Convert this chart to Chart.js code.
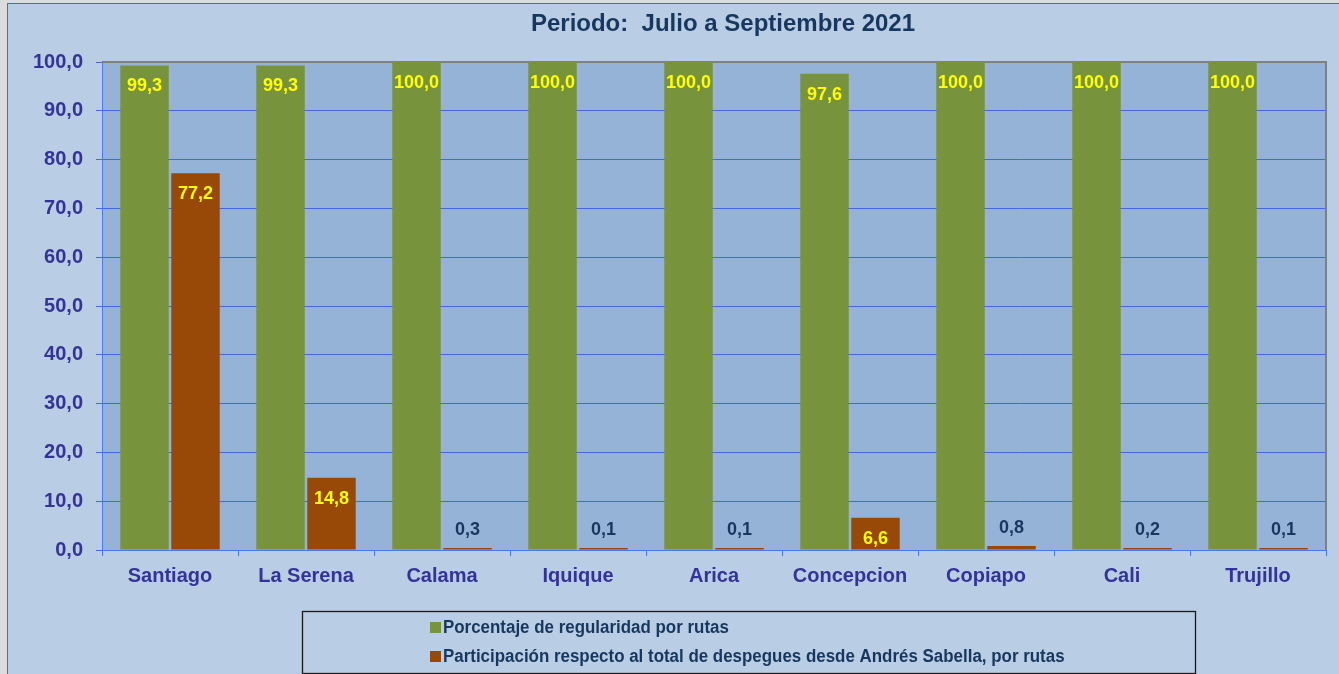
<!DOCTYPE html>
<html lang="es">
<head>
<meta charset="UTF-8">
<title>Periodo: Julio a Septiembre 2021</title>
<script src="https://cdn.jsdelivr.net/npm/chart.js"></script>
<style>
  html, body { margin: 0; padding: 0; background: #dcdcdc; overflow: hidden; }
  #frame {
    position: absolute; left: 7px; top: 3px; width: 1332px; height: 671px;
    background: #b9cde5; border-left: 1px solid #3a6cf0; border-top: 1px solid #3a6cf0;
  }
  canvas { display: block; }
</style>
</head>
<body>
<div id="frame"><canvas id="chart" width="1331" height="670"></canvas></div>

<script>
  const categories = ['Santiago', 'La Serena', 'Calama', 'Iquique', 'Arica', 'Concepcion', 'Copiapo', 'Cali', 'Trujillo'];
  const regularidad = [99.3, 99.3, 100.0, 100.0, 100.0, 97.6, 100.0, 100.0, 100.0];
  const participacion = [77.2, 14.8, 0.3, 0.1, 0.1, 6.6, 0.8, 0.2, 0.1];
  const seriesNames = [
    'Porcentaje de regularidad por rutas',
    'Participación respecto al total de despegues desde Andrés Sabella, por rutas'
  ];
  const titleText = 'Periodo:  Julio a Septiembre 2021';

  const GREEN = '#77933c';
  const ORANGE = '#984807';
  const fmt = (v) => v.toFixed(1).replace('.', ',');

  // plot area fill + grey top/right border
  const plotFrame = {
    id: 'plotFrame',
    beforeDraw(chart) {
      const { ctx, chartArea: a } = chart;
      ctx.save();
      ctx.fillStyle = '#95b3d7';
      ctx.fillRect(a.left, a.top, a.right - a.left, a.bottom - a.top);
      ctx.restore();
    },
    beforeDatasetsDraw(chart) {
      const { ctx, chartArea: a } = chart;
      ctx.save();
      ctx.strokeStyle = '#808080';
      ctx.lineWidth = 2;
      ctx.beginPath();
      ctx.moveTo(a.left, a.top);
      ctx.lineTo(a.right, a.top);
      ctx.lineTo(a.right, a.bottom);
      ctx.stroke();
      ctx.restore();
    }
  };

  // value labels: inside the bar top (yellow) or above small bars (navy)
  const valueLabels = {
    id: 'valueLabels',
    afterDatasetsDraw(chart) {
      const { ctx } = chart;
      ctx.save();
      ctx.font = 'bold 18px Arial, "Liberation Sans", sans-serif';
      ctx.textAlign = 'center';
      ctx.textBaseline = 'middle';
      chart.data.datasets.forEach((ds, i) => {
        chart.getDatasetMeta(i).data.forEach((bar, j) => {
          const v = ds.data[j];
          if (v >= 5) {
            ctx.fillStyle = '#ffff00';
            ctx.fillText(fmt(v), bar.x, bar.y + 21);
          } else {
            ctx.fillStyle = '#17375e';
            ctx.fillText(fmt(v), bar.x, bar.y - 18);
          }
        });
      });
      ctx.restore();
    }
  };

  // title + boxed legend
  const titleLegend = {
    id: 'titleLegend',
    afterDraw(chart) {
      const { ctx, chartArea: a } = chart;
      ctx.save();
      ctx.fillStyle = '#17375e';
      ctx.font = 'bold 24px Arial, "Liberation Sans", sans-serif';
      ctx.textAlign = 'center';
      ctx.textBaseline = 'middle';
      ctx.fillText(titleText, (a.left + a.right) / 2 + 9, 20);

      ctx.strokeStyle = '#1a1a1a';
      ctx.lineWidth = 1.3;
      ctx.strokeRect(294.5, 607.5, 893, 62);

      // narrow-looking legend text
      ctx.font = 'bold 18px Arial, "Liberation Sans", sans-serif';
      ctx.textAlign = 'left';
      chart.data.datasets.forEach((ds, i) => {
        const y = 624 + i * 29;
        ctx.fillStyle = ds.backgroundColor;
        ctx.fillRect(422, y - 6, 11, 11);
        ctx.save();
        ctx.translate(435, y);
        ctx.scale(0.94, 1);
        ctx.fillStyle = '#17375e';
        ctx.fillText(ds.label, 0, 0);
        ctx.restore();
      });
      ctx.restore();
    }
  };

  new Chart(document.getElementById('chart'), {
    type: 'bar',
    data: {
      labels: categories,
      datasets: [
        { label: seriesNames[0], data: regularidad, backgroundColor: GREEN },
        { label: seriesNames[1], data: participacion, backgroundColor: ORANGE }
      ]
    },
    options: {
      responsive: false,
      animation: false,
      categoryPercentage: 0.75,
      barPercentage: 0.95,
      minBarLength: 2,
      layout: { padding: { top: 58, right: 13, bottom: 80, left: 0 } },
      plugins: {
        legend: { display: false },
        title: { display: false },
        tooltip: { enabled: false }
      },
      scales: {
        x: {
          offset: true,
          grid: { drawOnChartArea: false, color: '#4a78f0', tickLength: 6 },
          border: { color: '#4a78f0' },
          ticks: {
            color: '#333399',
            padding: 8,
            font: { family: 'Arial, "Liberation Sans", sans-serif', size: 20, weight: 'bold' }
          },
          afterFit(scale) { scale.height = 44; }
        },
        y: {
          min: 0,
          max: 100,
          ticks: {
            stepSize: 10,
            color: '#333399',
            padding: 13,
            font: { family: 'Arial, "Liberation Sans", sans-serif', size: 20, weight: 'bold' },
            callback: (v) => fmt(v)
          },
          grid: { color: '#4169e1', tickLength: 6 },
          border: { color: '#4a78f0' },
          afterFit(scale) { scale.width = 94; }
        }
      }
    },
    plugins: [plotFrame, valueLabels, titleLegend]
  });
</script>
</body>
</html>
